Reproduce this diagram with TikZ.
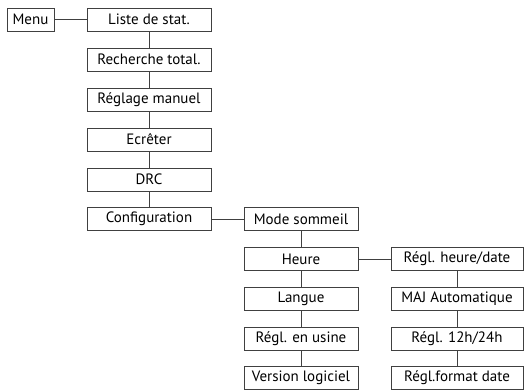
\documentclass[tikz,border=0pt]{standalone}
\usepackage{fontspec}
\setmainfont{PT Sans}
\begin{document}
\begin{tikzpicture}[x=1pt,y=-1pt,
  box/.style={draw=black!75, line width=0.8pt, inner sep=0pt, minimum height=23pt, font=\fontsize{15}{17}\selectfont, anchor=center},
  c1/.style={box, minimum width=124pt},
  c2/.style={box, minimum width=114pt},
  c3/.style={box, minimum width=132pt},
  mb/.style={box, minimum width=47pt},
  link/.style={draw=black!75, line width=0.8pt}]
\useasboundingbox (0,0) rectangle (524,389);
\node[mb] (menu) at (30.5,19.5) {Menu};
\node[c1] (l1) at (149,19.5) {Liste de stat.};
\node[c1] (l2) at (149,59.5) {Recherche total.};
\node[c1] (l3) at (149,99.5) {Réglage manuel};
\node[c1] (l4) at (149,139.5) {Ecrêter};
\node[c1] (l5) at (149,179.5) {DRC};
\node[c1] (l6) at (149,219) {Configuration};
\node[c2] (m1) at (301,219) {Mode sommeil};
\node[c2] (m2) at (301,259) {Heure};
\node[c2] (m3) at (301,299) {Langue};
\node[c2] (m4) at (301,339) {Régl. en usine};
\node[c2] (m5) at (301,377.5) {Version logiciel};
\node[c3] (r1) at (457,259) {Régl. heure/date};
\node[c3] (r2) at (457,299) {MAJ Automatique};
\node[c3] (r3) at (457,339) {Régl. 12h/24h};
\node[c3] (r4) at (457,377.5) {Régl.format date};
\draw[link] (menu) -- (l1);
\draw[link] (l1) -- (l2);
\draw[link] (l2) -- (l3);
\draw[link] (l3) -- (l4);
\draw[link] (l4) -- (l5);
\draw[link] (l5) -- (l6);
\draw[link] (l6) -- (m1);
\draw[link] (m1) -- (m2);
\draw[link] (m2) -- (m3);
\draw[link] (m3) -- (m4);
\draw[link] (m4) -- (m5);
\draw[link] (m2) -- (r1);
\draw[link] (r1) -- (r2);
\draw[link] (r2) -- (r3);
\draw[link] (r3) -- (r4);
\end{tikzpicture}
\end{document}
